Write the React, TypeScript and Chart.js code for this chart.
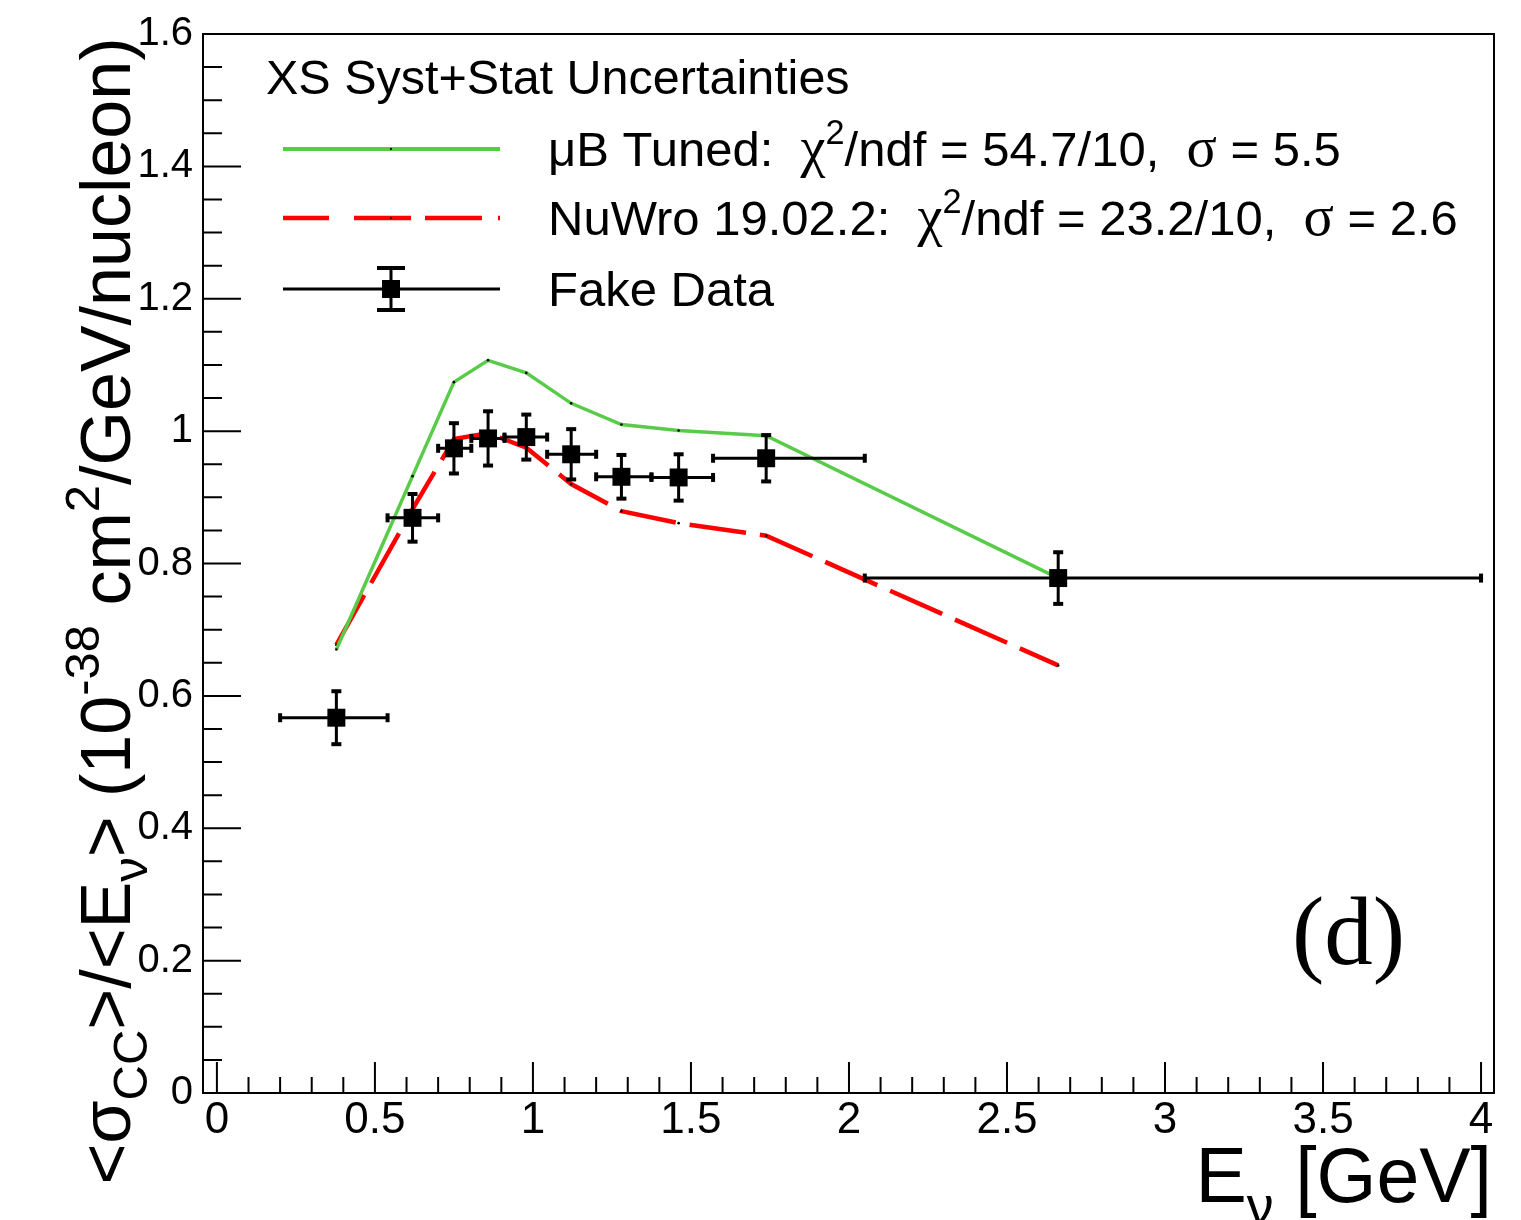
import React, { useEffect, useRef } from "react";
import { Chart, registerables } from "chart.js";

Chart.register(...registerables);

// ---------------- data ----------------
const xCenters = [0.378, 0.619, 0.75, 0.858, 0.979, 1.121, 1.28, 1.461, 1.738, 2.662];
const binLow = [0.2, 0.54, 0.7, 0.805, 0.91, 1.045, 1.2, 1.375, 1.57, 2.05];
const binHigh = [0.54, 0.7, 0.805, 0.91, 1.045, 1.2, 1.375, 1.57, 2.05, 4.0];
const fakeData = [0.567, 0.869, 0.974, 0.989, 0.991, 0.965, 0.931, 0.93, 0.959, 0.778];
const fakeErr = [0.04, 0.036, 0.038, 0.041, 0.034, 0.038, 0.033, 0.035, 0.035, 0.039];
const ubTuned = [0.67, 0.932, 1.074, 1.107, 1.088, 1.042, 1.01, 1.001, 0.993, 0.778];
const nuWro = [0.677, 0.882, 0.988, 0.997, 0.975, 0.92, 0.879, 0.861, 0.842, 0.646];

const xTicks = [0, 0.5, 1, 1.5, 2, 2.5, 3, 3.5, 4];
const xTickLabels = ["0", "0.5", "1", "1.5", "2", "2.5", "3", "3.5", "4"];
const yTicks = [0, 0.2, 0.4, 0.6, 0.8, 1.0, 1.2, 1.4, 1.6];
const yTickLabels = ["0", "0.2", "0.4", "0.6", "0.8", "1", "1.2", "1.4", "1.6"];

const legendHeader = "XS Syst+Stat Uncertainties";
const labelTuned = "\u03bcB Tuned:";
const labelNuWro = "NuWro 19.02.2:";
const labelData = "Fake Data";
const chi2Tuned = "54.7/10,";
const sigmaTuned = "5.5";
const chi2NuWro = "23.2/10,";
const sigmaNuWro = "2.6";
const panelLabel = "(d)";

// ---------------- styling ----------------
const FONT = '"Liberation Sans", Arial, Helvetica, sans-serif';
const SERIF = '"Liberation Serif", "Times New Roman", serif';
const GREEN = "rgb(88, 204, 72)";
const RED = "rgb(255, 0, 0)";

type Seg = { t: string; s?: "sub" | "sup"; serif?: boolean };

function segFont(seg: Seg, size: number) {
  let sz = seg.s ? size * 0.7 : size;
  if (seg.serif) sz *= 1.15;
  return `${sz}px ${seg.serif ? SERIF : FONT}`;
}
function richWidth(ctx: CanvasRenderingContext2D, segs: Seg[], size: number) {
  let w = 0;
  for (const s of segs) {
    ctx.font = segFont(s, size);
    w += ctx.measureText(s.t).width;
  }
  return w;
}
function drawRich(ctx: CanvasRenderingContext2D, segs: Seg[], x: number, y: number, size: number, subOff = 0.28) {
  let cx = x;
  ctx.textAlign = "left";
  ctx.textBaseline = "alphabetic";
  for (const s of segs) {
    ctx.font = segFont(s, size);
    const dy = s.s === "sub" ? size * subOff : s.s === "sup" ? -size * 0.45 : 0;
    ctx.fillText(s.t, cx, y + dy);
    cx += ctx.measureText(s.t).width;
  }
}

const rootPlugin = {
  id: "rootStyle",
  afterDatasetsDraw(chart: any) {
    const { ctx, chartArea: a } = chart;
    const xs = chart.scales.x;
    const ys = chart.scales.y;
    ctx.save();
    // error bars of fake data
    ctx.strokeStyle = "#000";
    ctx.fillStyle = "#000";
    ctx.lineWidth = 3;
    for (let i = 0; i < xCenters.length; i++) {
      const px = xs.getPixelForValue(xCenters[i]);
      const py = ys.getPixelForValue(fakeData[i]);
      const xl = xs.getPixelForValue(binLow[i]);
      const xh = xs.getPixelForValue(binHigh[i]);
      const yt = ys.getPixelForValue(fakeData[i] + fakeErr[i]);
      const yb = ys.getPixelForValue(fakeData[i] - fakeErr[i]);
      ctx.beginPath();
      ctx.moveTo(xl, py);
      ctx.lineTo(xh, py);
      ctx.moveTo(px, yt);
      ctx.lineTo(px, yb);
      ctx.stroke();
      ctx.fillRect(px - 5, yt - 2, 10, 4);
      ctx.fillRect(px - 5, yb - 2, 10, 4);
      ctx.fillRect(xl - 2, py - 4.5, 4, 9);
      ctx.fillRect(xh - 2, py - 4.5, 4, 9);
    }
    // frame
    ctx.lineWidth = 2;
    ctx.strokeRect(a.left, a.top, a.right - a.left, a.bottom - a.top);
    // y ticks (major 0.2, minor 0.05)
    ctx.beginPath();
    for (let k = 0; k <= 32; k++) {
      const v = k * 0.05;
      const py = ys.getPixelForValue(v);
      const len = k % 4 === 0 ? 38 : 19;
      ctx.moveTo(a.left, py);
      ctx.lineTo(a.left + len, py);
    }
    // x ticks (major 0.5, minor 0.1)
    for (let k = 0; k <= 40; k++) {
      const v = k * 0.1;
      const px = xs.getPixelForValue(v);
      const len = k % 5 === 0 ? 31 : 16;
      ctx.moveTo(px, a.bottom);
      ctx.lineTo(px, a.bottom - len);
    }
    ctx.stroke();
    ctx.restore();
  },
  afterDraw(chart: any) {
    const { ctx } = chart;
    ctx.save();
    ctx.fillStyle = "#000";

    // y-axis title
    const ySegs: Seg[] = [
      { t: "<\u03c3" },
      { t: "CC", s: "sub" },
      { t: ">/<E" },
      { t: "\u03bd", s: "sub" },
      { t: "> (10" },
      { t: "-38", s: "sup" },
      { t: " cm" },
      { t: "2", s: "sup" },
      { t: "/GeV/nucleon)" },
    ];
    const ySize = 70;
    const yw = richWidth(ctx, ySegs, ySize);
    ctx.save();
    ctx.translate(130, 611);
    ctx.rotate(-Math.PI / 2);
    drawRich(ctx, ySegs, -yw / 2, 0, ySize, 0.24);
    ctx.restore();

    // x-axis title
    const xSegs: Seg[] = [{ t: "E" }, { t: "\u03bd", s: "sub" }, { t: " [GeV]" }];
    const xSize = 77;
    const xw = richWidth(ctx, xSegs, xSize);
    drawRich(ctx, xSegs, 1492 - xw, 1202, xSize);

    // legend
    const lSize = 49;
    drawRich(ctx, [{ t: legendHeader }], 266, 94, 48.5);
    const rows = [149, 218, 289];
    const texts: Seg[][] = [
      [
        { t: labelTuned + "  " },
        { t: "\u03c7", serif: true },
        { t: "2", s: "sup" },
        { t: "/ndf = " + chi2Tuned + "  " },
        { t: "\u03c3", serif: true },
        { t: " = " + sigmaTuned },
      ],
      [
        { t: labelNuWro + "  " },
        { t: "\u03c7", serif: true },
        { t: "2", s: "sup" },
        { t: "/ndf = " + chi2NuWro + "  " },
        { t: "\u03c3", serif: true },
        { t: " = " + sigmaNuWro },
      ],
      [{ t: labelData }],
    ];
    rows.forEach((ry, i) => drawRich(ctx, texts[i], 548, ry + 17, lSize));

    // legend symbols
    ctx.lineCap = "butt";
    ctx.strokeStyle = GREEN;
    ctx.lineWidth = 4;
    ctx.beginPath();
    ctx.moveTo(283, rows[0]);
    ctx.lineTo(500, rows[0]);
    ctx.stroke();
    ctx.fillStyle = "#000";
    ctx.fillRect(390, rows[0] - 1, 2, 2);

    ctx.strokeStyle = RED;
    ctx.lineWidth = 4.5;
    ctx.setLineDash([46, 25, 57, 14, 57, 16]);
    ctx.beginPath();
    ctx.moveTo(283, rows[1]);
    ctx.lineTo(500, rows[1]);
    ctx.stroke();
    ctx.setLineDash([]);
    ctx.fillRect(390, rows[1] - 1, 2, 2);

    ctx.strokeStyle = "#000";
    ctx.lineWidth = 3;
    ctx.beginPath();
    ctx.moveTo(283, rows[2]);
    ctx.lineTo(500, rows[2]);
    ctx.moveTo(391, rows[2] - 22);
    ctx.lineTo(391, rows[2] + 22);
    ctx.stroke();
    ctx.fillRect(382, rows[2] - 9, 18, 18);
    ctx.fillRect(377, rows[2] - 23, 28, 4);
    ctx.fillRect(377, rows[2] + 19, 28, 4);

    // panel label
    ctx.font = `97px ${SERIF}`;
    ctx.textAlign = "left";
    ctx.textBaseline = "alphabetic";
    ctx.fillText(panelLabel, 1292, 964);
    ctx.restore();
  },
};

export default function App() {
  const ref = useRef<HTMLCanvasElement | null>(null);
  useEffect(() => {
    document.body.style.margin = "0";
    const canvas = ref.current;
    if (!canvas) return;
    const pts = (ys: number[]) => xCenters.map((x, i) => ({ x, y: ys[i] }));
    const chart = new Chart(canvas, {
      type: "scatter",
      data: {
        datasets: [
          {
            label: labelData,
            data: pts(fakeData),
            showLine: false,
            pointStyle: "rect",
            pointRadius: 12.7,
            pointBackgroundColor: "#000",
            pointBorderWidth: 0,
            borderColor: "#000",
          },
          {
            label: labelTuned,
            data: pts(ubTuned),
            showLine: true,
            borderColor: GREEN,
            borderWidth: 3.5,
            pointRadius: 1.3,
            pointBackgroundColor: "#000",
            pointBorderWidth: 0,
            tension: 0,
          },
          {
            label: labelNuWro,
            data: pts(nuWro),
            showLine: true,
            borderColor: RED,
            borderWidth: 4.5,
            borderDash: [57, 14],
            pointRadius: 1.3,
            pointBackgroundColor: "#000",
            pointBorderWidth: 0,
            tension: 0,
          },
        ],
      },
      options: {
        responsive: false,
        animation: false,
        devicePixelRatio: 1,
        layout: { padding: { left: 0, top: 32, right: 27, bottom: 0 } },
        plugins: { legend: { display: false }, tooltip: { enabled: false }, title: { display: false } },
        scales: {
          x: {
            type: "linear",
            min: -0.044,
            max: 4.041,
            grid: { display: false, drawTicks: false },
            border: { display: false },
            afterBuildTicks: (scale: any) => {
              scale.ticks = xTicks.map((v) => ({ value: v }));
            },
            afterFit: (scale: any) => {
              scale.height = 127;
            },
            ticks: {
              autoSkip: false,
              maxRotation: 0,
              padding: 1,
              color: "#000",
              font: { family: FONT, size: 44 },
              callback: (v: any) => {
                const i = xTicks.findIndex((t) => Math.abs(t - Number(v)) < 1e-6);
                return i >= 0 ? xTickLabels[i] : "";
              },
            },
          },
          y: {
            type: "linear",
            min: 0,
            max: 1.6,
            grid: { display: false, drawTicks: false },
            border: { display: false },
            afterBuildTicks: (scale: any) => {
              scale.ticks = yTicks.map((v) => ({ value: v }));
            },
            afterFit: (scale: any) => {
              scale.width = 203;
            },
            ticks: {
              autoSkip: false,
              padding: 10,
              color: "#000",
              font: { family: FONT, size: 40 },
              callback: (v: any) => {
                const i = yTicks.findIndex((t) => Math.abs(t - Number(v)) < 1e-6);
                return i >= 0 ? yTickLabels[i] : "";
              },
            },
          },
        },
      },
      plugins: [rootPlugin],
    } as any);
    return () => chart.destroy();
  }, []);
  return (
    <div style={{ position: "absolute", left: 0, top: 0, width: 1521, height: 1220, background: "#fff" }}>
      <canvas ref={ref} width={1521} height={1220} />
    </div>
  );
}
